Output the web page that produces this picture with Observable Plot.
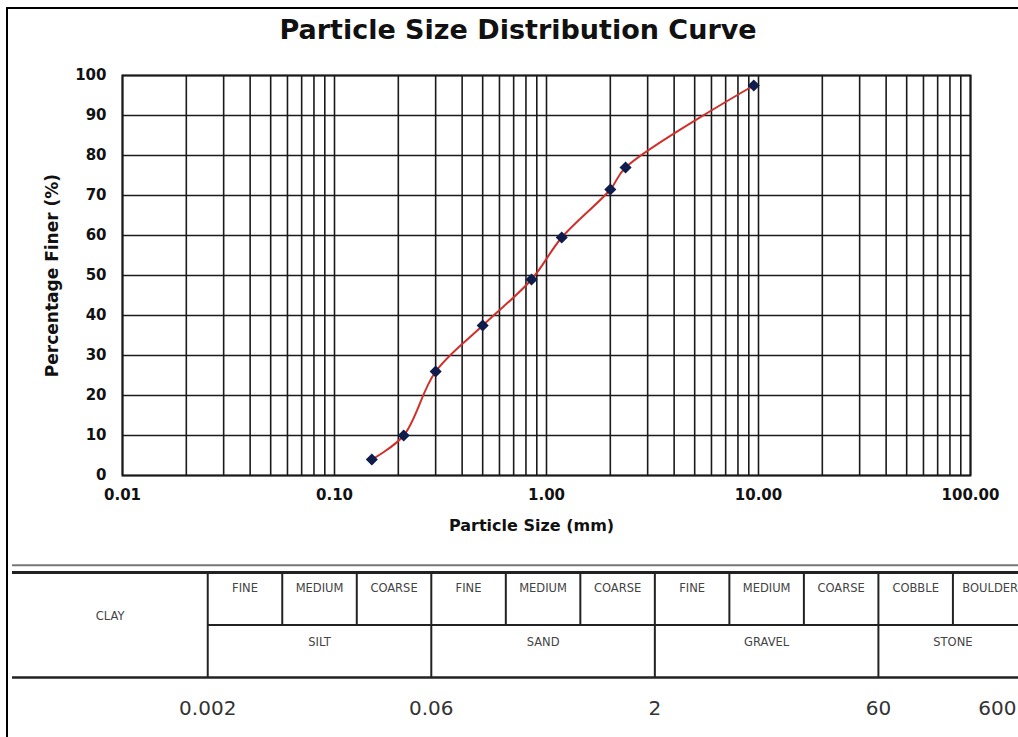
<!DOCTYPE html>
<html><head><meta charset="utf-8">
<script src="https://cdn.jsdelivr.net/npm/d3@7"></script>
<script src="https://cdn.jsdelivr.net/npm/@observablehq/plot@0.6"></script>
<style>
html,body{margin:0;padding:0;background:#fff;}
#page{position:relative;width:1018px;height:737px;overflow:hidden;font-family:"DejaVu Sans",sans-serif;}
#border{position:absolute;left:6px;top:7px;right:-5px;bottom:-5px;border-left:2px solid #000;border-top:2px solid #000;}
#title{position:absolute;top:15px;left:518px;transform:translateX(-50%);font-weight:bold;font-size:27px;font-family:"DejaVu Sans",sans-serif;white-space:nowrap;color:#111;line-height:1.1;}
#chart{position:absolute;left:0;top:50px;}
#table{position:absolute;left:0;top:555px;}
</style></head>
<body><div id="page"><div id="border"></div><div id="title">Particle Size Distribution Curve</div><div id="chart"></div><div id="table"></div></div>
<script>
// ---- data ----
const sieveSizes   = [0.15, 0.212, 0.3, 0.5, 0.85, 1.18, 2.0, 2.36, 9.5];
const percentFiner = [4, 10, 26, 37.5, 49, 59.5, 71.5, 77, 97.5];
const xTicks = [0.01, 0.1, 1, 10, 100];
const yTicks = [0, 10, 20, 30, 40, 50, 60, 70, 80, 90, 100];
const xLabel = "Particle Size (mm)";
const yLabel = "Percentage Finer (%)";
const clayLabel = "CLAY";
const mainClasses = ["SILT", "SAND", "GRAVEL", "STONE"];
const subClasses = [["FINE","MEDIUM","COARSE"],["FINE","MEDIUM","COARSE"],["FINE","MEDIUM","COARSE"],["COBBLE","BOULDER"]];
const boundaryLabels = ["0.002", "0.06", "2", "60"];
const upperLimitLabel = "600";

// ---- main chart ----
const data = sieveSizes.map((d, i) => ({size: d, finer: percentFiner[i]}));
const gridX = [];
for (const p of xTicks.slice(0, -1)) for (let k = 1; k < 10; k++) gridX.push(+(p * k).toPrecision(3));
gridX.push(xTicks[xTicks.length - 1]);

const ink = "#1a1a1a";
const chart = Plot.plot({
  width: 1018, height: 495,
  marginTop: 25, marginBottom: 70, marginLeft: 122, marginRight: 48,
  style: {fontFamily: "DejaVu Sans, sans-serif", background: "transparent", color: "#111", overflow: "visible"},
  x: {type: "log", domain: [0.01, 100]},
  y: {domain: [0, 100]},
  marks: [
    Plot.ruleX(gridX, {stroke: ink, strokeWidth: 1.6}),
    Plot.ruleY(yTicks, {stroke: ink, strokeWidth: 1.6}),
    Plot.frame({stroke: ink, strokeWidth: 2}),
    Plot.axisX({ticks: xTicks, tickFormat: d3.format(".2f"), tickSize: 0, tickPadding: 14, label: null, fontSize: 15, fontWeight: "bold"}),
    Plot.axisY({ticks: yTicks, tickSize: 0, tickPadding: 16, label: null, fontSize: 15, fontWeight: "bold"}),
    Plot.line(data, {x: "size", y: "finer", stroke: "#d0302a", strokeWidth: 2, curve: "catmull-rom"}),
    Plot.dot(data, {x: "size", y: "finer", symbol: "diamond2", r: 4.5, fill: "#0f1d4d", stroke: "#0f1d4d", strokeWidth: 1.5}),
    Plot.text([xLabel], {text: d => d, frameAnchor: "bottom", dy: 50, dx: -15, fontSize: 16, fontWeight: "bold", lineAnchor: "middle"}),
    Plot.text([yLabel], {text: d => d, frameAnchor: "left", dx: -70, rotate: -90, fontSize: 17, fontWeight: "bold", lineAnchor: "middle", textAnchor: "middle"})
  ]
});
document.getElementById("chart").appendChild(chart);

// ---- classification table ----
const clayWidth = 2.62;   // in sub-column units
const groupStarts = [];
let s = clayWidth;
for (const subs of subClasses) { groupStarts.push(s); s += subs.length; }
const tableEnd = 13.5;

const subCells = [];
const subLines = [];
subClasses.forEach((subs, g) => subs.forEach((name, j) => {
  subCells.push({name, x: groupStarts[g] + j + 0.5});
  if (j > 0) subLines.push(groupStarts[g] + j);
}));
const groupCells = mainClasses.map((name, g) => ({name, x: groupStarts[g] + subClasses[g].length / 2}));
const bounds = boundaryLabels.map((t, i) => ({t, x: groupStarts[i]}));

const table = Plot.plot({
  width: 1018, height: 182,
  margin: 0,
  style: {fontFamily: "DejaVu Sans, sans-serif", background: "transparent", overflow: "visible"},
  x: {domain: [0, tableEnd], range: [12, 1018], axis: null},
  y: {domain: [0, 2], range: [17, 122], axis: null},
  marks: [
    Plot.ruleY([-0.14], {x1: 0, x2: tableEnd, stroke: "#777", strokeWidth: 2}),
    Plot.ruleY([0], {x1: 0, x2: tableEnd, stroke: "#222", strokeWidth: 3}),
    Plot.ruleY([1], {x1: clayWidth, x2: tableEnd, stroke: "#222", strokeWidth: 2}),
    Plot.ruleY([2], {x1: 0, x2: tableEnd, stroke: "#222", strokeWidth: 2.5}),
    Plot.ruleX(groupStarts, {y1: 0, y2: 2, stroke: "#222", strokeWidth: 2}),
    Plot.ruleX(subLines, {y1: 0, y2: 1, stroke: "#222", strokeWidth: 2}),
    Plot.text([clayLabel], {text: d => d, x: clayWidth / 2, y: 0.84, fontSize: 11.5, fill: "#444", lineAnchor: "middle"}),
    Plot.text(subCells, {text: "name", x: "x", y: 0.3, fontSize: 11.5, fill: "#444", lineAnchor: "middle"}),
    Plot.text(groupCells, {text: "name", x: "x", y: 1.33, fontSize: 11.5, fill: "#444", lineAnchor: "middle"}),
    Plot.text(bounds, {text: "t", x: "x", y: 2.6, fontSize: 20, fill: "#333", lineAnchor: "middle"}),
    Plot.text([upperLimitLabel], {text: d => d, x: tableEnd, y: 2.6, dx: -2, fontSize: 20, fill: "#333", lineAnchor: "middle", textAnchor: "end"})
  ]
});
document.getElementById("table").appendChild(table);
</script>
</body></html>
